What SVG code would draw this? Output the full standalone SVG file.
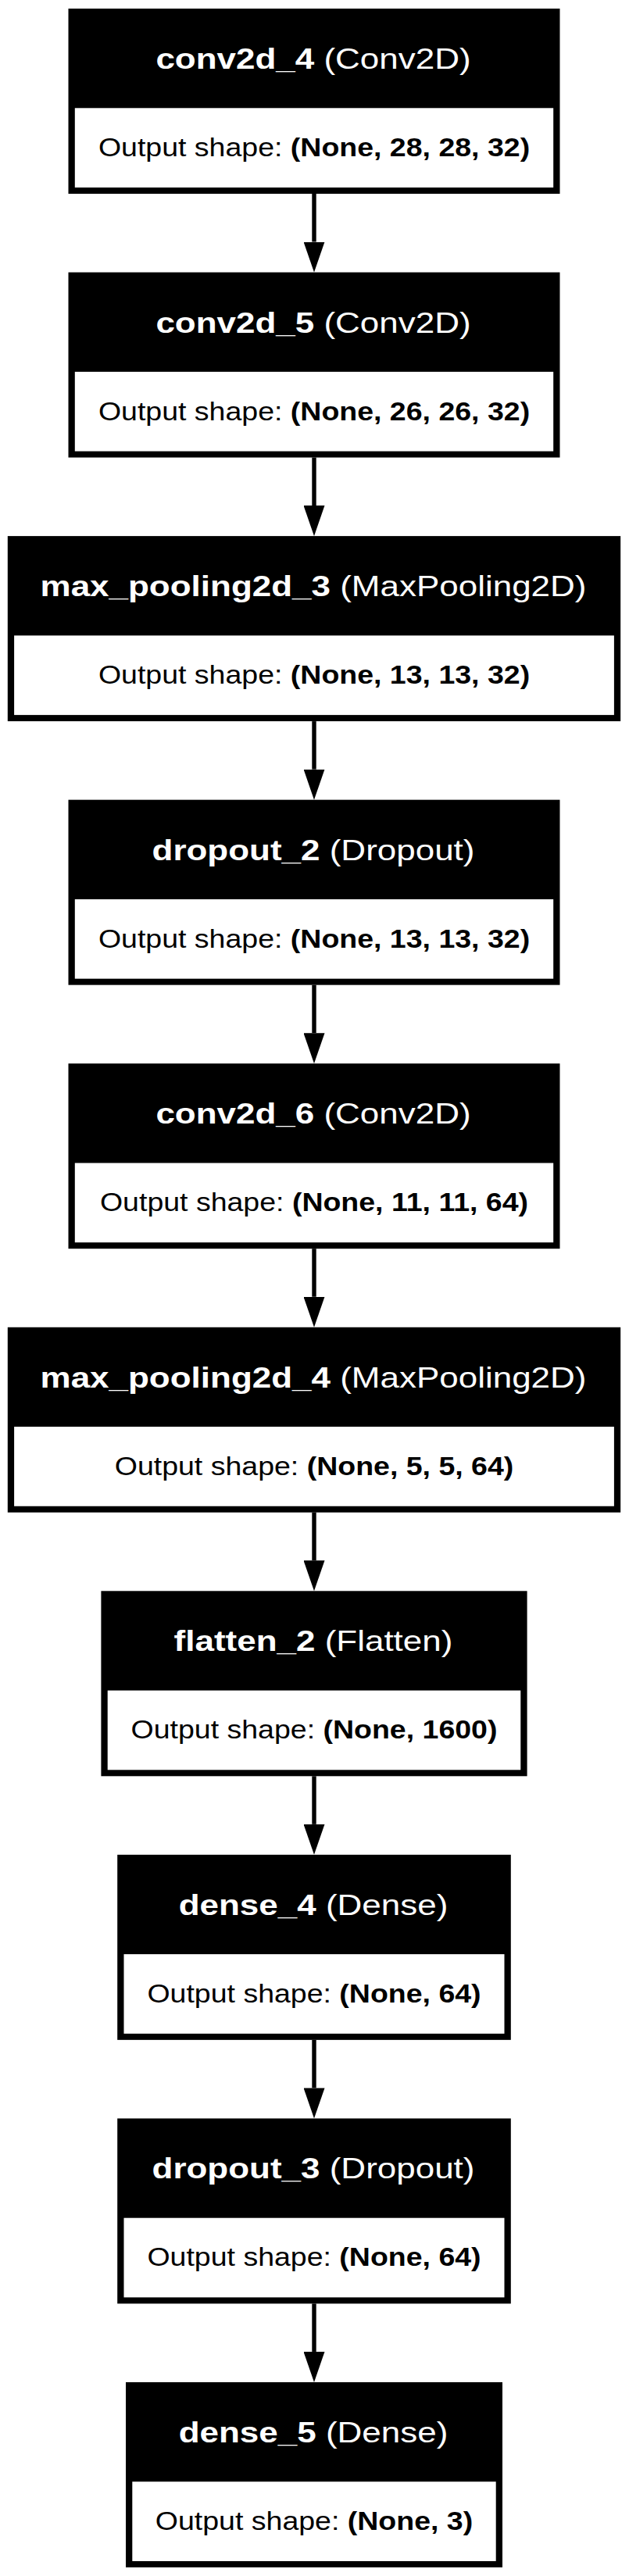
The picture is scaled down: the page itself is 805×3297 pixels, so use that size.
<svg xmlns="http://www.w3.org/2000/svg" width="805" height="3297" viewBox="0 0 805 3297">
<defs>
<style>
.outer { fill: #000; }
.cell { fill: #fff; }
.h { font-family: "Liberation Sans", Arial, sans-serif; font-size: 37.5px; fill: #fff; text-anchor: middle; }
.b { font-family: "Liberation Sans", Arial, sans-serif; font-size: 34px; fill: #000; text-anchor: middle; }
.bold { font-weight: bold; }
.edge { stroke: #000; stroke-width: 5.4; fill: none; marker-end: url(#arrow); }
</style>
<marker id="arrow" markerUnits="userSpaceOnUse" viewBox="0 0 39 27" markerWidth="39" markerHeight="27" refX="0" refY="13.5" orient="auto">
<path d="M0,0 L39,13.5 L0,27 z" fill="#000"/>
</marker>
</defs>
<rect width="805" height="3297" fill="#fff"/>
<g id="connectors">
<line class="edge" x1="402" y1="248" x2="402" y2="309.55"/>
<line class="edge" x1="402" y1="585.55" x2="402" y2="647.1"/>
<line class="edge" x1="402" y1="923.1" x2="402" y2="984.65"/>
<line class="edge" x1="402" y1="1260.65" x2="402" y2="1322.2"/>
<line class="edge" x1="402" y1="1598.2" x2="402" y2="1659.75"/>
<line class="edge" x1="402" y1="1935.75" x2="402" y2="1997.3"/>
<line class="edge" x1="402" y1="2273.3" x2="402" y2="2334.85"/>
<line class="edge" x1="402" y1="2610.85" x2="402" y2="2672.4"/>
<line class="edge" x1="402" y1="2948.4" x2="402" y2="3009.95"/>
</g>
<g id="conv2d_4">
<rect class="outer" x="87.5" y="11" width="629" height="237"/>
<rect class="cell" x="95.8" y="138.3" width="612.4" height="101.7"/>
<text class="h" transform="translate(401,88) scale(1.173,1)"><tspan class="bold">conv2d_4</tspan> (Conv2D)</text>
<text class="b" transform="translate(402,200) scale(1.103,1)">Output shape: <tspan class="bold">(None, 28, 28, 32)</tspan></text>
</g>
<g id="conv2d_5">
<rect class="outer" x="87.5" y="348.55" width="629" height="237"/>
<rect class="cell" x="95.8" y="475.85" width="612.4" height="101.7"/>
<text class="h" transform="translate(401,425.55) scale(1.173,1)"><tspan class="bold">conv2d_5</tspan> (Conv2D)</text>
<text class="b" transform="translate(402,537.55) scale(1.103,1)">Output shape: <tspan class="bold">(None, 26, 26, 32)</tspan></text>
</g>
<g id="max_pooling2d_3">
<rect class="outer" x="9.8" y="686.1" width="784.4" height="237"/>
<rect class="cell" x="18.1" y="813.4" width="767.8" height="101.7"/>
<text class="h" transform="translate(401,763.1) scale(1.173,1)"><tspan class="bold">max_pooling2d_3</tspan> (MaxPooling2D)</text>
<text class="b" transform="translate(402,875.1) scale(1.103,1)">Output shape: <tspan class="bold">(None, 13, 13, 32)</tspan></text>
</g>
<g id="dropout_2">
<rect class="outer" x="87.5" y="1023.65" width="629" height="237"/>
<rect class="cell" x="95.8" y="1150.95" width="612.4" height="101.7"/>
<text class="h" transform="translate(401,1100.65) scale(1.173,1)"><tspan class="bold">dropout_2</tspan> (Dropout)</text>
<text class="b" transform="translate(402,1212.65) scale(1.103,1)">Output shape: <tspan class="bold">(None, 13, 13, 32)</tspan></text>
</g>
<g id="conv2d_6">
<rect class="outer" x="87.5" y="1361.2" width="629" height="237"/>
<rect class="cell" x="95.8" y="1488.5" width="612.4" height="101.7"/>
<text class="h" transform="translate(401,1438.2) scale(1.173,1)"><tspan class="bold">conv2d_6</tspan> (Conv2D)</text>
<text class="b" transform="translate(402,1550.2) scale(1.103,1)">Output shape: <tspan class="bold">(None, 11, 11, 64)</tspan></text>
</g>
<g id="max_pooling2d_4">
<rect class="outer" x="9.8" y="1698.75" width="784.4" height="237"/>
<rect class="cell" x="18.1" y="1826.05" width="767.8" height="101.7"/>
<text class="h" transform="translate(401,1775.75) scale(1.173,1)"><tspan class="bold">max_pooling2d_4</tspan> (MaxPooling2D)</text>
<text class="b" transform="translate(402,1887.75) scale(1.103,1)">Output shape: <tspan class="bold">(None, 5, 5, 64)</tspan></text>
</g>
<g id="flatten_2">
<rect class="outer" x="129.4" y="2036.3" width="545.2" height="237"/>
<rect class="cell" x="137.7" y="2163.6" width="528.6" height="101.7"/>
<text class="h" transform="translate(401,2113.3) scale(1.173,1)"><tspan class="bold">flatten_2</tspan> (Flatten)</text>
<text class="b" transform="translate(402,2225.3) scale(1.103,1)">Output shape: <tspan class="bold">(None, 1600)</tspan></text>
</g>
<g id="dense_4">
<rect class="outer" x="150.2" y="2373.85" width="503.6" height="237"/>
<rect class="cell" x="158.5" y="2501.15" width="487" height="101.7"/>
<text class="h" transform="translate(401,2450.85) scale(1.173,1)"><tspan class="bold">dense_4</tspan> (Dense)</text>
<text class="b" transform="translate(402,2562.85) scale(1.103,1)">Output shape: <tspan class="bold">(None, 64)</tspan></text>
</g>
<g id="dropout_3">
<rect class="outer" x="150.2" y="2711.4" width="503.6" height="237"/>
<rect class="cell" x="158.5" y="2838.7" width="487" height="101.7"/>
<text class="h" transform="translate(401,2788.4) scale(1.173,1)"><tspan class="bold">dropout_3</tspan> (Dropout)</text>
<text class="b" transform="translate(402,2900.4) scale(1.103,1)">Output shape: <tspan class="bold">(None, 64)</tspan></text>
</g>
<g id="dense_5">
<rect class="outer" x="161" y="3048.95" width="482" height="237"/>
<rect class="cell" x="169.3" y="3176.25" width="465.4" height="101.7"/>
<text class="h" transform="translate(401,3125.95) scale(1.173,1)"><tspan class="bold">dense_5</tspan> (Dense)</text>
<text class="b" transform="translate(402,3237.95) scale(1.103,1)">Output shape: <tspan class="bold">(None, 3)</tspan></text>
</g>
</svg>
